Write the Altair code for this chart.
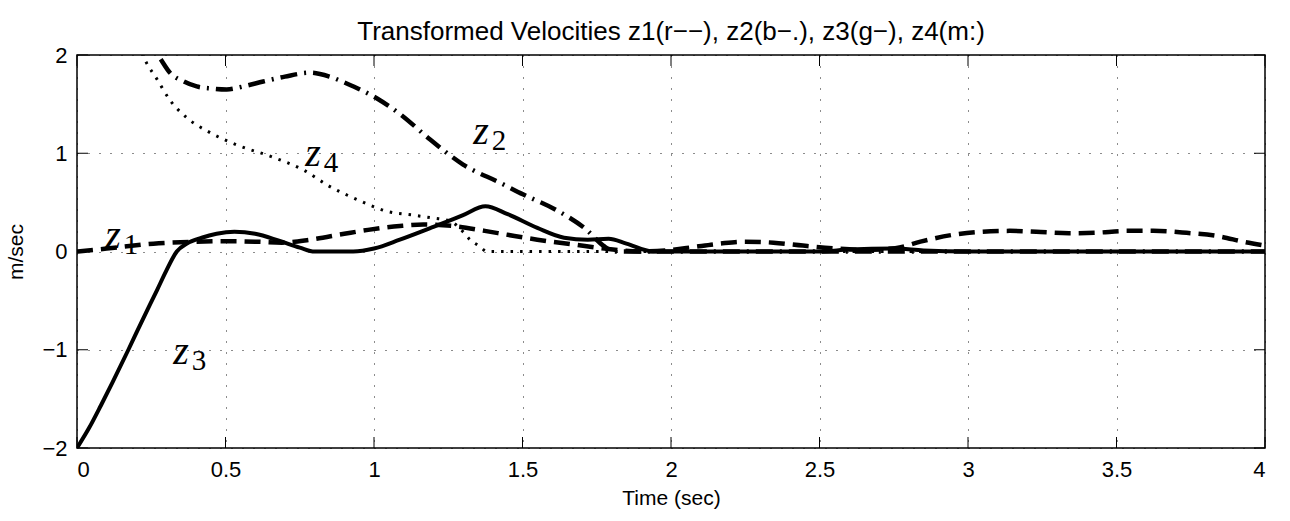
import altair as alt
import pandas as pd

TITLE = "Transformed Velocities z1(r\u2212\u2212), z2(b\u2212.), z3(g\u2212), z4(m:)"
X_TITLE = "Time (sec)"
Y_TITLE = "m/sec"
X_TICKS = [0, 0.5, 1, 1.5, 2, 2.5, 3, 3.5, 4]
Y_TICKS = [-2, -1, 0, 1, 2]

# z1 (dashed)
Z1_T = [0, 0.1, 0.257, 0.4, 0.504, 0.6, 0.69, 0.785, 0.9, 0.98, 1.087, 1.166, 1.266,
        1.373, 1.45, 1.55, 1.676, 1.776, 1.896, 1.98, 2.063, 2.164, 2.245, 2.345, 2.444,
        2.543, 2.655, 2.755, 2.84, 2.95, 3.04, 3.14, 3.23, 3.34, 3.425, 3.537, 3.624,
        3.736, 3.835, 3.935, 4.0]
Z1_V = [0, 0.03, 0.08, 0.1, 0.105, 0.1, 0.09, 0.12, 0.18, 0.22, 0.26, 0.275, 0.26,
        0.21, 0.17, 0.12, 0.07, 0.03, 0.0, 0.01, 0.04, 0.08, 0.10, 0.09, 0.06,
        0.034, 0.017, 0.034, 0.10, 0.17, 0.20, 0.21, 0.20, 0.186, 0.19, 0.21, 0.21,
        0.19, 0.16, 0.095, 0.06]

# z2 (dash-dot)
Z2_T = [0, 0.1, 0.2, 0.279, 0.313, 0.36, 0.403, 0.45, 0.504, 0.56, 0.627, 0.70, 0.785,
        0.85, 0.908, 1.009, 1.087, 1.189, 1.30, 1.424, 1.503, 1.615, 1.716, 1.772, 1.81,
        2.0, 4.0]
Z2_V = [3.4, 2.8, 2.3, 1.97, 1.82, 1.73, 1.68, 1.66, 1.65, 1.68, 1.73, 1.78, 1.82,
        1.78, 1.71, 1.56, 1.40, 1.14, 0.885, 0.70, 0.58, 0.42, 0.22, 0.06, 0.0,
        0.0, 0.0]

# z3 (solid)
Z3_T = [0, 0.04, 0.08, 0.12, 0.173, 0.22, 0.27, 0.30, 0.336, 0.37, 0.42, 0.47, 0.53,
        0.60, 0.68, 0.75, 0.80, 0.93, 1.0, 1.087, 1.2, 1.3, 1.375, 1.45, 1.55, 1.64,
        1.72, 1.79, 1.85, 1.94, 2.5, 2.6, 2.75, 2.85, 3.0, 3.5, 4.0]
Z3_V = [-2, -1.8, -1.57, -1.33, -1.0, -0.7, -0.39, -0.2, 0, 0.08, 0.14, 0.18, 0.2,
        0.18, 0.11, 0.04, 0.0, 0.0, 0.03, 0.12, 0.25, 0.37, 0.46, 0.38, 0.24, 0.14,
        0.12, 0.13, 0.08, 0.0, 0.0, 0.02, 0.03, 0.01, 0.0, 0.0, 0.0]

# z4 (dotted)
Z4_T = [0, 0.1, 0.2, 0.234, 0.268, 0.313, 0.37, 0.448, 0.538, 0.65, 0.762, 0.852,
        0.942, 1.043, 1.132, 1.2, 1.256, 1.3, 1.323, 1.357, 1.38, 2.0, 4.0]
Z4_V = [3.2, 2.7, 2.15, 1.92, 1.76, 1.54, 1.36, 1.21, 1.085, 0.97, 0.83, 0.66,
        0.53, 0.41, 0.37, 0.34, 0.31, 0.2, 0.12, 0.05, 0.0, 0.0, 0.0]

# in-plot curve labels
LABEL_SUB = ["1", "2", "3", "4"]
LABEL_T = [0.121, 1.360, 0.350, 0.795]
LABEL_V = [0.16, 1.22, -1.02, 0.99]

W, H = 1188, 393
FONT = "Liberation Sans"
TICK_LEN = 11

xs = alt.Scale(domain=[0, 4], nice=False, zero=False)
ys = alt.Scale(domain=[-2, 2], nice=False, zero=False)

x_axis = alt.Axis(values=X_TICKS, format="~g", title=X_TITLE, grid=True,
                  gridDash=[1, 10], gridColor="black", gridWidth=1, gridOpacity=0.9,
                  domain=False, ticks=False, tickSize=0, labelFontSize=22,
                  labelPadding=11, labelFont=FONT, labelColor="black",
                  titleFont=FONT, titleFontSize=21, titleFontWeight="normal",
                  titleColor="black", titleY=50, titleBaseline="middle")
y_axis = alt.Axis(values=Y_TICKS, format="d", title=Y_TITLE, grid=True,
                  gridDash=[1, 10], gridColor="black", gridWidth=1, gridOpacity=0.9,
                  domain=False, ticks=False, tickSize=0, labelFontSize=22,
                  labelPadding=10, labelFont=FONT, labelColor="black",
                  titleFont=FONT, titleFontSize=21, titleFontWeight="normal",
                  titleColor="black", titleX=-61, titleY=H / 2, titleAngle=-90,
                  titleAlign="center", titleBaseline="middle")

X = alt.X("t:Q", scale=xs, axis=x_axis)
Y = alt.Y("v:Q", scale=ys, axis=y_axis)


def line(t, v, dash, width):
    df = pd.DataFrame({"t": t, "v": v})
    kw = dict(color="black", strokeWidth=width, interpolate="monotone", clip=True,
              strokeCap="butt", strokeJoin="round")
    if dash:
        kw["strokeDash"] = dash
    return alt.Chart(df).mark_line(**kw).encode(x=X, y=Y)


xt = pd.DataFrame({"t": X_TICKS})
yt = pd.DataFrame({"v": Y_TICKS})

ticks_bottom = alt.Chart(xt).mark_rule(color="black", strokeWidth=1).encode(
    x=X, y=alt.value(H), y2=alt.value(H - TICK_LEN))
ticks_top = alt.Chart(xt).mark_rule(color="black", strokeWidth=1).encode(
    x=X, y=alt.value(0), y2=alt.value(TICK_LEN))
ticks_left = alt.Chart(yt).mark_rule(color="black", strokeWidth=1).encode(
    y=Y, x=alt.value(0), x2=alt.value(TICK_LEN))
ticks_right = alt.Chart(yt).mark_rule(color="black", strokeWidth=1).encode(
    y=Y, x=alt.value(W), x2=alt.value(W - TICK_LEN))

labels = pd.DataFrame({"t": LABEL_T, "v": LABEL_V, "sub": LABEL_SUB})
lab_z = alt.Chart(labels).mark_text(text="z", font="Liberation Serif", fontStyle="italic",
                                    fontSize=40, color="black", align="center",
                                    baseline="middle").encode(x=X, y=Y)
lab_sub = alt.Chart(labels).mark_text(font="Liberation Serif", fontSize=29, color="black",
                                      align="center", baseline="middle",
                                      dx=18, dy=9).encode(x=X, y=Y, text="sub:N")

chart = alt.layer(
    line(Z4_T, Z4_V, [2.5, 7], 3),
    line(Z1_T, Z1_V, [16, 8], 4.5),
    line(Z2_T, Z2_V, [17, 7, 2, 7], 4.5),
    line(Z3_T, Z3_V, None, 4),
    ticks_bottom, ticks_top, ticks_left, ticks_right,
    lab_z, lab_sub,
).properties(
    width=W, height=H,
    title=alt.TitleParams(TITLE, font=FONT, fontSize=26, fontWeight="normal",
                          color="black", anchor="middle", frame="group", offset=2,
                          dy=3),
    autosize=alt.AutoSizeParams(type="none"),
    padding={"left": 77, "top": 55, "right": 25, "bottom": 73},
    background="white",
).configure_view(stroke="black", strokeWidth=1.5)

chart.save("out.html", embed_options={"renderer": "svg", "actions": False})
